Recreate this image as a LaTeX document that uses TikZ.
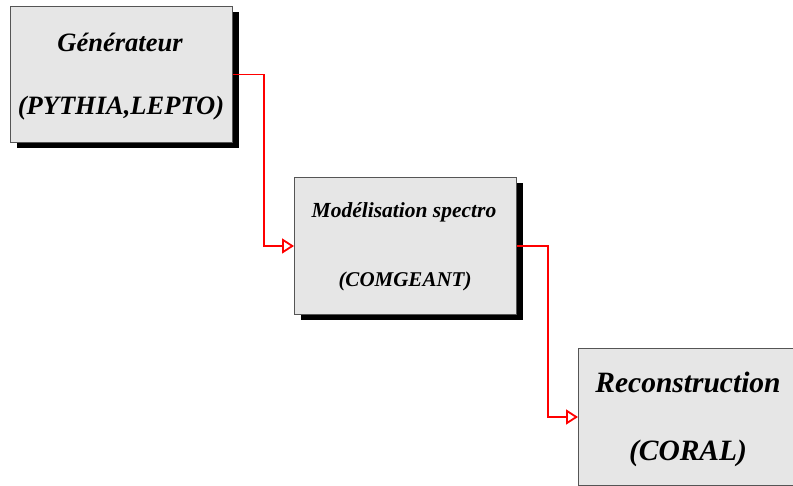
\documentclass[tikz,border=0pt]{standalone}
\usepackage{fontspec}
\setmainfont{Liberation Serif}
\usetikzlibrary{arrows.meta,shadows}
\definecolor{boxgray}{HTML}{E6E6E6}
\definecolor{edgegray}{HTML}{555555}
\tikzset{
  procbox/.style={draw=edgegray, line width=1pt, fill=boxgray, minimum width=222pt, minimum height=137pt, inner sep=0pt, anchor=north west,
    drop shadow={shadow xshift=6pt, shadow yshift=-6pt, fill=black, opacity=1}},
  lbl/.style={anchor=base, inner sep=0pt, font=\bfseries\itshape},
  flow/.style={draw=red, line width=1.8pt, -{Triangle[open, length=12pt, width=15pt, line width=1.8pt]}}
}
\begin{document}
\begin{tikzpicture}[x=1pt,y=-1pt]
\useasboundingbox (0,0) rectangle (793,486);
\node[procbox, minimum height=136pt] (b1) at (10,6) {};
\node[procbox] (b2) at (294,177) {};
\node[procbox] (b3) at (578,348) {};
\node[lbl, font=\fontsize{26.5}{30}\selectfont\bfseries\itshape] (t1a) at (120,52) {Générateur};
\node[lbl, font=\fontsize{26.5}{30}\selectfont\bfseries\itshape] (t1b) at (121,115) {(PYTHIA,LEPTO)};
\node[lbl, font=\fontsize{21.5}{24}\selectfont\bfseries\itshape] (t2a) at (404,218) {Modélisation spectro};
\node[lbl, font=\fontsize{21}{24}\selectfont\bfseries\itshape] (t2b) at (405,287) {(COMGEANT)};
\node[lbl, font=\fontsize{29.5}{33}\selectfont\bfseries\itshape] (t3a) at (688,393) {Reconstruction};
\node[lbl, font=\fontsize{29.5}{33}\selectfont\bfseries\itshape] (t3b) at (688,460) {(CORAL)};
\draw[flow] (b1.east) -- ++(31,0) |- (b2.west);
\draw[flow] (b2.east) -- ++(31,0) |- (b3.west);
\end{tikzpicture}
\end{document}
